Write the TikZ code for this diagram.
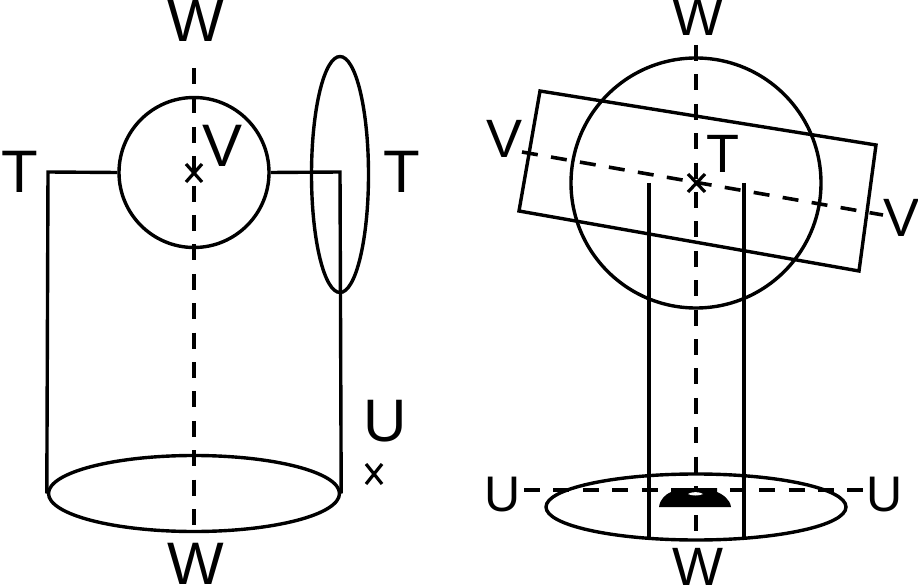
\documentclass[tikz,border=0pt]{standalone}
\usepackage{fontspec}
\setmainfont{Liberation Sans}
\usetikzlibrary{shapes.geometric}
\begin{document}
\begin{tikzpicture}[x=1pt,y=-1pt,
 ln/.style={line width=3.4pt,black,line join=miter},
 dsh/.style={line width=3.6pt,black,dash pattern=on 16pt off 13.4pt},
 lab/.style={font=\fontsize{60}{60}\selectfont,inner sep=0pt,anchor=center,text=black},
 labs/.style={font=\fontsize{54}{54}\selectfont,inner sep=0pt,anchor=center,text=black},
 labu/.style={font=\fontsize{50}{50}\selectfont,inner sep=0pt,anchor=center,text=black},
 mk/.style={line width=3.2pt,black}]
\useasboundingbox (0,0) rectangle (918,585);
% left
\coordinate (wlt) at (194,68); \coordinate (wlb) at (194,532);
\draw[dsh] (wlt) -- (wlb);
\node[draw,circle,ln,minimum size=150pt,inner sep=0pt] (cl) at (194,172.5) {};
\node[draw,ellipse,ln,minimum width=291pt,minimum height=76pt,inner sep=0pt] (el) at (194,493.5) {};
\node[draw,ellipse,ln,minimum width=57pt,minimum height=236pt,inner sep=0pt] (et) at (340,174.5) {};
\coordinate (tl) at (48,172); \coordinate (tr) at (340,172);
\draw[ln] (cl.west) -- (tl) -- (el.west);
\draw[ln] (cl.east) -- (tr) -- (el.east);
\draw[mk] (186,164) -- (202,182) (202,164) -- (186,182);
\draw[mk] (366,464) -- (382,484) (382,464) -- (366,484);
\node[lab] (w1) at (196,21) {W};
\node[lab] (w2) at (196,564) {W};
\node[lab] (v1) at (223,146) {V};
\node[lab] (t1) at (20,172) {T};
\node[lab] (t2) at (402,172) {T};
\node[lab] (u1) at (385.5,421.5) {U};
% right
\coordinate (wrt) at (696,45); \coordinate (wrb) at (696,540);
\draw[dsh] (wrt) -- (wrb);
\node[draw,circle,ln,minimum size=250pt,inner sep=0pt] (cr) at (696,183) {};
\draw[ln] (540,91) -- (876,145) -- (859,271) -- (519,211) -- cycle;
\coordinate (va) at (522,152); \coordinate (vb) at (883,215);
\draw[dsh] (va) -- (vb);
\node[draw,ellipse,ln,minimum width=300pt,minimum height=66pt,inner sep=0pt] (er) at (696,507) {};
\draw[ln] (649,183) -- (649,540);
\draw[ln] (744,183) -- (744,540);
\coordinate (ua) at (524,490); \coordinate (ub) at (866,490);
\draw[dsh] (ua) -- (ub);
\fill[black] (659,507) -- (731,507) .. controls (730,499) and (722,494) .. (717,492) -- (717,488) -- (671,488) -- (671,492) .. controls (666,494) and (660,499) .. (659,507) -- cycle;
\fill[white] (688,494) .. controls (691,491.5) and (700,491.5) .. (703,494) .. controls (700,496) and (691,496) .. (688,494) -- cycle;
\draw[mk] (688,174) -- (705,192) (705,174) -- (688,192);
\node[labs] (w3) at (698,17) {W};
\node[labs] (w4) at (698,567) {W};
\node[labs] (v2) at (505,139) {V};
\node[labs] (v3) at (901,218) {V};
\node[labs] (t3) at (723,153.5) {T};
\node[labu] (u2) at (503,495) {U};
\node[labu] (u3) at (885,495) {U};
\end{tikzpicture}
\end{document}
